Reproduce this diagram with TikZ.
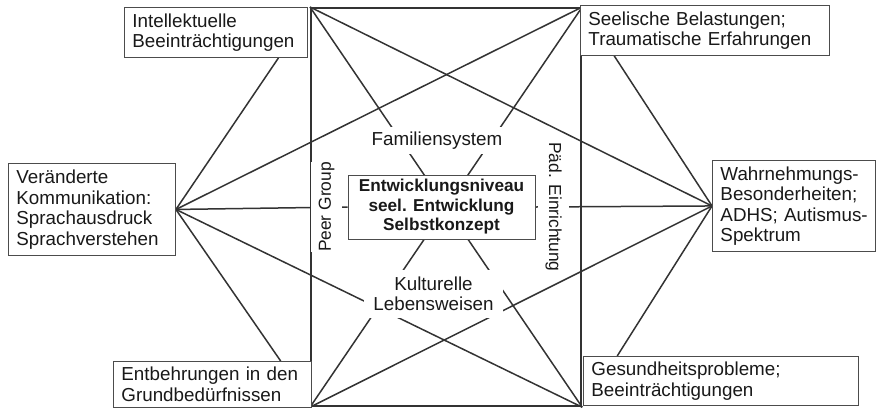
\documentclass[tikz,border=0pt]{standalone}
\usepackage{fontspec}
\setmainfont{Liberation Sans}
\usetikzlibrary{calc}
\pgfdeclarelayer{background}
\pgfsetlayers{background,main}
\newcommand\oneline[1]{\mbox{#1}}
\begin{document}
\begin{tikzpicture}[x=1pt,y=-1pt,
  font=\fontsize{18.8}{20.5}\selectfont,
  text=black!90,
  obox/.style={draw=black!70, line width=0.9pt, fill=white, anchor=north west,
    align=left, inner xsep=8pt, inner ysep=0pt},
  lbl/.style={fill=white, inner sep=0pt, align=center},
  rlbl/.style={fill=white, inner sep=0pt, minimum height=31pt,
    font={\fontsize{17.4}{20.5}\selectfont}},
  conn/.style={draw=black!80, line width=1.5pt},
]
\useasboundingbox (0,0) rectangle (877,408);

% central square
\node[draw=black!80, line width=2.2pt, minimum width=270pt, minimum height=398pt,
  anchor=north west, inner sep=0pt] (sq) at (310,7) {};

% outer boxes
\node[obox, text width=167pt, minimum height=50pt] (intel) at (124,7)
  {\oneline{Intellektuelle}\\\oneline{Beeinträchtigungen}};
\node[obox, text width=233pt, minimum height=50pt] (seel) at (580,5)
  {\oneline{Seelische Belastungen;}\\\oneline{Traumatische Erfahrungen}};
\node[obox, text width=151pt, minimum height=92pt] (verand) at (8,163)
  {\oneline{Veränderte}\\\oneline{Kommunikation:}\\\oneline{Sprachausdruck}\\\oneline{Sprachverstehen}};
\node[obox, text width=147pt, minimum height=91pt] (wahr) at (712,160)
  {\oneline{Wahrnehmungs-}\\\oneline{Besonderheiten;}\\\oneline{ADHS; Autismus-}\\\oneline{Spektrum}};
\node[obox, text width=182pt, minimum height=46pt] (entb) at (113,361)
  {\oneline{Entbehrungen in den}\\\oneline{Grundbedürfnissen}};
\node[obox, text width=259pt, minimum height=49pt] (gesund) at (583,356)
  {\oneline{Gesundheitsprobleme;}\\\oneline{Beeinträchtigungen}};

% inner labels
\node[draw=black!70, line width=0.9pt, fill=white, minimum width=187pt,
  minimum height=64pt, inner sep=0pt, align=center,
  font=\bfseries\fontsize{17.2}{19.5}\selectfont] (core) at (441.5,207)
  {Entwicklungsniveau\\seel. Entwicklung\\Selbstkonzept};
\node[lbl, minimum width=136pt, minimum height=27pt] (fam) at (437,140.5)
  {Familiensystem};
\node[lbl, minimum width=139pt, minimum height=48pt] (kult) at (433.5,294)
  {Kulturelle\\Lebensweisen};
\node[rlbl, rotate=90] (peer) at (326.5,207) {Peer Group};
\node[rlbl, rotate=-90] (paed) at (553.5,207) {Päd. Einrichtung};

% attachment points
\coordinate (ib) at ($(intel.south west)!0.84!(intel.south east)$);
\coordinate (sb) at ($(seel.south west)!0.137!(seel.south east)$);
\coordinate (et) at ($(entb.north west)!0.843!(entb.north east)$);
\coordinate (gt) at ($(gesund.north west)!0.124!(gesund.north east)$);

\begin{pgfonlayer}{background}
  \draw[conn] (ib) -- (verand.east) -- (et);
  \draw[conn] (sb) -- (wahr.west) -- (gt);
  \draw[conn] (sq.north west) -- (sq.south east);
  \draw[conn] (sq.north east) -- (sq.south west);
  \draw[conn] (sq.north west) -- (wahr.west);
  \draw[conn] (sq.south west) -- (wahr.west);
  \draw[conn] (sq.north east) -- (verand.east);
  \draw[conn] (sq.south east) -- (verand.east);
  \draw[conn] (verand.east) -- (core.west);
  \draw[conn] (core.east) -- (wahr.west);
\end{pgfonlayer}
\end{tikzpicture}
\end{document}
